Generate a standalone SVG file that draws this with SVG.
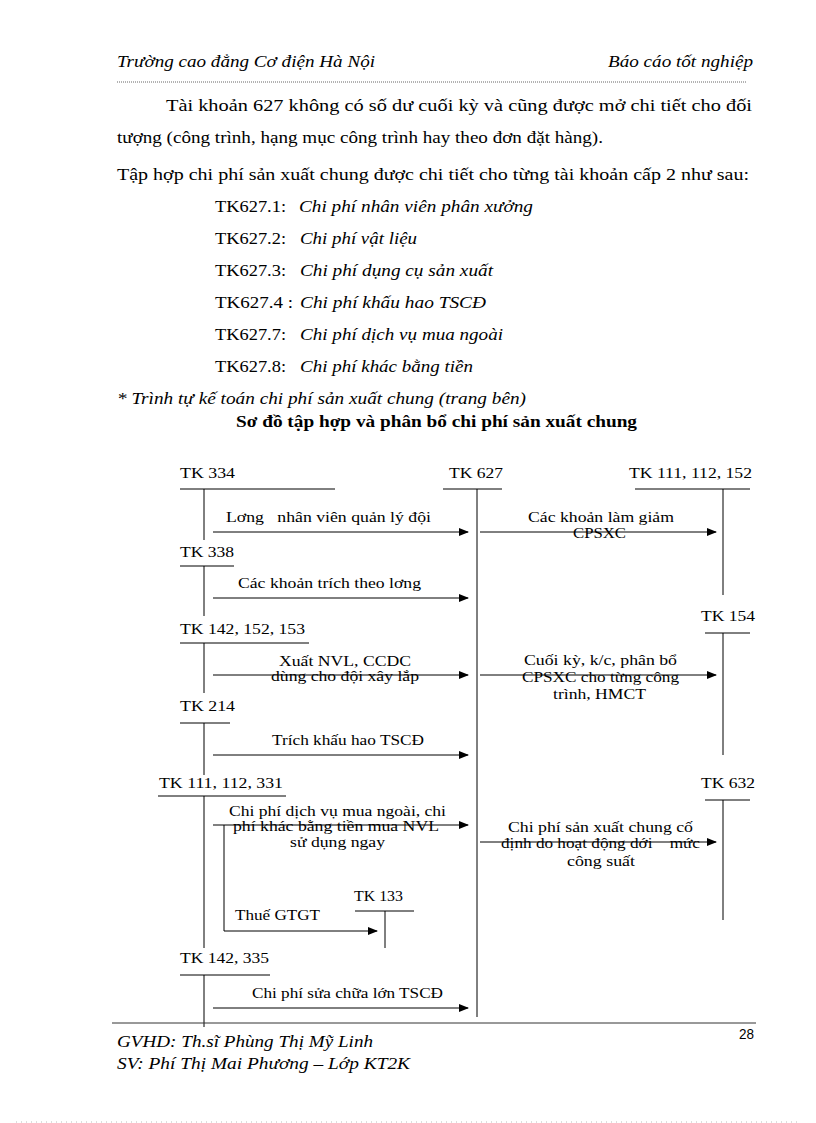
<svg xmlns="http://www.w3.org/2000/svg" width="816" height="1123" viewBox="0 0 816 1123">
<style>
text{font-family:"Liberation Serif","DejaVu Serif",serif;fill:#000}
.hd{font-size:16.5px;font-style:italic}
.b{font-size:17px}
.it{font-style:italic}
.tk{font-size:15px}
.lb{font-size:15px}
.ln{stroke:#000;stroke-width:1;fill:none}
.ar{stroke:#000;stroke-width:1;fill:none;marker-end:url(#ah)}
</style>
<defs>
<marker id="ah" markerWidth="10" markerHeight="8" refX="9" refY="4" orient="auto" markerUnits="userSpaceOnUse">
<path d="M0,0 L10,4 L0,8 Z" fill="#000"/>
</marker>
</defs>
<rect width="816" height="1123" fill="#fff"/>
<g id="header">
<text class="hd" x="117" y="67" textLength="258" lengthAdjust="spacingAndGlyphs">Trường cao đẳng Cơ điện Hà Nội</text>
<text class="hd" x="608" y="67" textLength="145" lengthAdjust="spacingAndGlyphs">Báo cáo tốt nghiệp</text>
<line x1="117" y1="82" x2="747" y2="82" stroke="#666" stroke-width="1" stroke-dasharray="1,1"/>
</g>
<g id="body">
<text class="b" x="166" y="111" textLength="586" lengthAdjust="spacingAndGlyphs">Tài khoản 627 không có số dư cuối kỳ và cũng được mở chi tiết  cho đối</text>
<text class="b" x="117" y="143" textLength="486" lengthAdjust="spacingAndGlyphs">tượng (công trình, hạng mục công trình hay theo đơn đặt hàng).</text>
<text class="b" x="117" y="180" textLength="632" lengthAdjust="spacingAndGlyphs">Tập hợp chi phí sản xuất chung được chi tiết cho từng tài khoản cấp 2 như sau:</text>
<text class="b" x="215" y="212" textLength="71" lengthAdjust="spacingAndGlyphs">TK627.1:</text>
<text class="b it" x="299" y="212" textLength="234" lengthAdjust="spacingAndGlyphs">Chi phí nhân viên phân xưởng</text>
<text class="b" x="215" y="244" textLength="71" lengthAdjust="spacingAndGlyphs">TK627.2:</text>
<text class="b it" x="300" y="244" textLength="117" lengthAdjust="spacingAndGlyphs">Chi phí vật liệu</text>
<text class="b" x="215" y="276" textLength="71" lengthAdjust="spacingAndGlyphs">TK627.3:</text>
<text class="b it" x="300" y="276" textLength="193" lengthAdjust="spacingAndGlyphs">Chi phí dụng cụ sản xuất</text>
<text class="b" x="215" y="308" textLength="78" lengthAdjust="spacingAndGlyphs">TK627.4 :</text>
<text class="b it" x="300" y="308" textLength="186" lengthAdjust="spacingAndGlyphs">Chi phí khấu hao TSCĐ</text>
<text class="b" x="215" y="340" textLength="71" lengthAdjust="spacingAndGlyphs">TK627.7:</text>
<text class="b it" x="300" y="340" textLength="203" lengthAdjust="spacingAndGlyphs">Chi phí dịch vụ mua ngoài</text>
<text class="b" x="215" y="372" textLength="71" lengthAdjust="spacingAndGlyphs">TK627.8:</text>
<text class="b it" x="300" y="372" textLength="173" lengthAdjust="spacingAndGlyphs">Chi phí khác bằng tiền</text>
<text class="b it" x="117" y="404" textLength="409" lengthAdjust="spacingAndGlyphs">* Trình tự kế toán chi phí sản xuất chung (trang bên)</text>
<text class="b" x="236" y="427" font-weight="bold" textLength="401" lengthAdjust="spacingAndGlyphs">Sơ đồ tập hợp và phân bổ chi phí sản xuất chung</text>
</g>
<g id="tk334">
<text class="tk" x="180" y="478" textLength="55" lengthAdjust="spacingAndGlyphs">TK 334</text>
<line class="ln" x1="180" y1="489" x2="335" y2="489"/>
<line class="ln" x1="204" y1="489" x2="204" y2="540"/>
</g>
<g id="tk627">
<text class="tk" x="449" y="478" textLength="54" lengthAdjust="spacingAndGlyphs">TK 627</text>
<line class="ln" x1="443" y1="489" x2="502" y2="489"/>
<line class="ln" x1="477" y1="489" x2="477" y2="1017"/>
</g>
<g id="tk111_112_152">
<text class="tk" x="629" y="478" textLength="123" lengthAdjust="spacingAndGlyphs">TK 111, 112, 152</text>
<line class="ln" x1="635" y1="489" x2="750" y2="489"/>
<line class="ln" x1="723" y1="489" x2="723" y2="595"/>
</g>
<g id="tk338">
<text class="tk" x="180" y="557" textLength="54" lengthAdjust="spacingAndGlyphs">TK 338</text>
<line class="ln" x1="180" y1="566" x2="234" y2="566"/>
<line class="ln" x1="204" y1="566" x2="204" y2="616"/>
</g>
<g id="tk142_152_153">
<text class="tk" x="180" y="634" textLength="125" lengthAdjust="spacingAndGlyphs">TK 142, 152, 153</text>
<line class="ln" x1="180" y1="643" x2="309" y2="643"/>
<line class="ln" x1="204" y1="643" x2="204" y2="693"/>
</g>
<g id="tk154">
<text class="tk" x="701" y="621" textLength="54" lengthAdjust="spacingAndGlyphs">TK 154</text>
<line class="ln" x1="705" y1="633" x2="750" y2="633"/>
<line class="ln" x1="723" y1="633" x2="723" y2="755"/>
</g>
<g id="tk214">
<text class="tk" x="180" y="711" textLength="55" lengthAdjust="spacingAndGlyphs">TK 214</text>
<line class="ln" x1="180" y1="723" x2="230" y2="723"/>
<line class="ln" x1="204" y1="723" x2="204" y2="775"/>
</g>
<g id="tk111_112_331">
<text class="tk" x="159" y="788" textLength="124" lengthAdjust="spacingAndGlyphs">TK 111, 112, 331</text>
<line class="ln" x1="158" y1="796" x2="286" y2="796"/>
<line class="ln" x1="204" y1="796" x2="204" y2="948"/>
</g>
<g id="tk632">
<text class="tk" x="701" y="788" textLength="54" lengthAdjust="spacingAndGlyphs">TK 632</text>
<line class="ln" x1="705" y1="800" x2="750" y2="800"/>
<line class="ln" x1="723" y1="800" x2="723" y2="920"/>
</g>
<g id="tk133">
<text class="tk" x="354" y="901" textLength="49" lengthAdjust="spacingAndGlyphs">TK 133</text>
<line class="ln" x1="355" y1="911" x2="414" y2="911"/>
<line class="ln" x1="385" y1="911" x2="385" y2="948"/>
</g>
<g id="tk142_335">
<text class="tk" x="180" y="963" textLength="89" lengthAdjust="spacingAndGlyphs">TK 142, 335</text>
<line class="ln" x1="180" y1="975" x2="270" y2="975"/>
<line class="ln" x1="204" y1="975" x2="204" y2="1027"/>
</g>
<g id="connectors">
<line class="ar" x1="213" y1="532" x2="468" y2="532"/>
<line class="ar" x1="480" y1="532" x2="716" y2="532"/>
<line class="ar" x1="213" y1="598" x2="468" y2="598"/>
<line class="ar" x1="213" y1="675" x2="468" y2="675"/>
<line class="ar" x1="480" y1="675" x2="716" y2="675"/>
<line class="ar" x1="213" y1="755" x2="468" y2="755"/>
<line class="ar" x1="213" y1="825" x2="468" y2="825"/>
<line class="ar" x1="480" y1="842" x2="716" y2="842"/>
<polyline class="ar" points="224,825 224,931 377,931"/>
<line class="ar" x1="213" y1="1008" x2="468" y2="1008"/>
</g>
<g id="labels">
<text class="lb" x="226" y="522" xml:space="preserve" textLength="205" lengthAdjust="spacingAndGlyphs">Lơng   nhân viên quản lý đội</text>
<text class="lb" x="528" y="522" textLength="146" lengthAdjust="spacingAndGlyphs">Các khoản làm giảm</text>
<text class="lb" x="573" y="538" textLength="53" lengthAdjust="spacingAndGlyphs">CPSXC</text>
<text class="lb" x="238" y="588" textLength="183" lengthAdjust="spacingAndGlyphs">Các khoản trích theo lơng</text>
<text class="lb" x="279" y="666" textLength="132" lengthAdjust="spacingAndGlyphs">Xuất NVL, CCDC</text>
<text class="lb" x="271" y="681" textLength="148" lengthAdjust="spacingAndGlyphs">dùng cho đội xây lắp</text>
<text class="lb" x="524" y="665" textLength="153" lengthAdjust="spacingAndGlyphs">Cuối kỳ, k/c, phân bổ</text>
<text class="lb" x="522" y="682" textLength="157" lengthAdjust="spacingAndGlyphs">CPSXC cho từng công</text>
<text class="lb" x="553" y="699" textLength="93" lengthAdjust="spacingAndGlyphs">trình, HMCT</text>
<text class="lb" x="272" y="745" textLength="152" lengthAdjust="spacingAndGlyphs">Trích khấu hao TSCĐ</text>
<text class="lb" x="229" y="816" textLength="217" lengthAdjust="spacingAndGlyphs">Chi phí dịch vụ mua ngoài, chi</text>
<text class="lb" x="233" y="831" textLength="206" lengthAdjust="spacingAndGlyphs">phí khác bằng tiền mua NVL</text>
<text class="lb" x="290" y="847" textLength="95" lengthAdjust="spacingAndGlyphs">sử dụng ngay</text>
<text class="lb" x="508" y="832" textLength="185" lengthAdjust="spacingAndGlyphs">Chi phí sản xuất chung cố</text>
<text class="lb" x="501" y="848" xml:space="preserve" textLength="199" lengthAdjust="spacingAndGlyphs">định do hoạt động dới    mức</text>
<text class="lb" x="567" y="866" textLength="68" lengthAdjust="spacingAndGlyphs">công suất</text>
<text class="lb" x="235" y="920" textLength="85" lengthAdjust="spacingAndGlyphs">Thuế GTGT</text>
<text class="lb" x="252" y="998" textLength="191" lengthAdjust="spacingAndGlyphs">Chi phí sửa chữa lớn TSCĐ</text>
</g>
<g id="footer">
<line x1="112" y1="1023" x2="756" y2="1023" stroke="#333" stroke-width="1"/>
<text x="739" y="1039" textLength="15" lengthAdjust="spacingAndGlyphs" style="font-family:'Liberation Sans',sans-serif;font-size:14px">28</text>
<text class="hd" x="117" y="1047" textLength="256" lengthAdjust="spacingAndGlyphs">GVHD: Th.sĩ Phùng Thị Mỹ Linh</text>
<text class="hd" x="117" y="1069" textLength="293" lengthAdjust="spacingAndGlyphs">SV: Phí Thị Mai Phương – Lớp KT2K</text>
<line x1="16" y1="1122" x2="800" y2="1122" stroke="#bbb" stroke-width="1" stroke-dasharray="1,4"/>
</g>
</svg>
